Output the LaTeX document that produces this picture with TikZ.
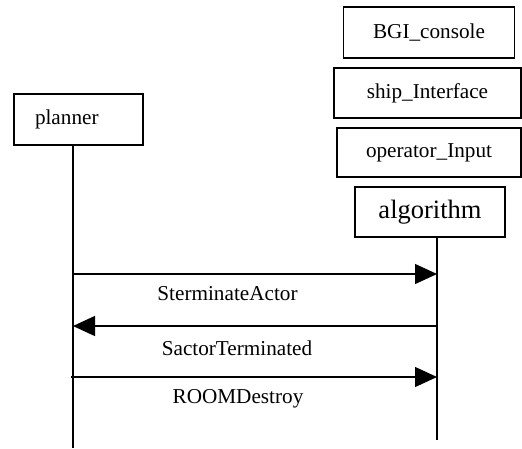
\documentclass[tikz,border=0pt]{standalone}
\usepackage{fontspec}
\setmainfont{Liberation Serif}
\usetikzlibrary{arrows.meta}
\begin{document}
\begin{tikzpicture}[x=1pt,y=-1pt,
  objbox/.style={draw, line width=1.4pt, inner sep=0pt, font=\fontsize{21.2}{25}\selectfont},
  lifeline/.style={line width=1.4pt},
  msg/.style={line width=1.4pt, -{Triangle[length=22pt,width=20pt]}},
  msglabel/.style={font=\fontsize{21.2}{25}\selectfont}]
\useasboundingbox (0,0) rectangle (522,448);

% participant boxes
\node[objbox, minimum width=171pt, minimum height=51pt] (bgi) at (429,32.5) {BGI\_console};
\node[objbox, minimum width=187pt, minimum height=50pt] (ship) at (427.5,93) {ship\_Interface};
\node[objbox, minimum width=184pt, minimum height=49pt] (oper) at (429,152.5) {operator\_Input};
\node[objbox, minimum width=150pt, minimum height=50pt, font=\fontsize{26.5}{30}\selectfont] (algo) at (430,212) {algorithm};
\node[objbox, minimum height=51pt, text width=87pt, inner xsep=21pt, align=left] (planner) at (78.5,119.5) {planner};

% lifelines
\coordinate (pend) at (73,448);
\coordinate (aend) at (437,440);
\draw[lifeline] (planner.south -| pend) -- (pend);
\draw[lifeline] (algo.south -| aend) -- (aend);

% message rows
\coordinate (p1) at (73,274);  \coordinate (a1) at (437,274);
\coordinate (p2) at (73,326);  \coordinate (a2) at (437,326);
\coordinate (p3) at (71,377);  \coordinate (a3) at (437,377);

\draw[msg] (p1) -- (a1);
\draw[msg] (a2) -- (p2);
\draw[msg] (p3) -- (a3);

\node[msglabel] (l1) at (227.5,294) {SterminateActor};
\node[msglabel] (l2) at (237,348) {SactorTerminated};
\node[msglabel] (l3) at (238,399) {ROOMDestroy};
\end{tikzpicture}
\end{document}
